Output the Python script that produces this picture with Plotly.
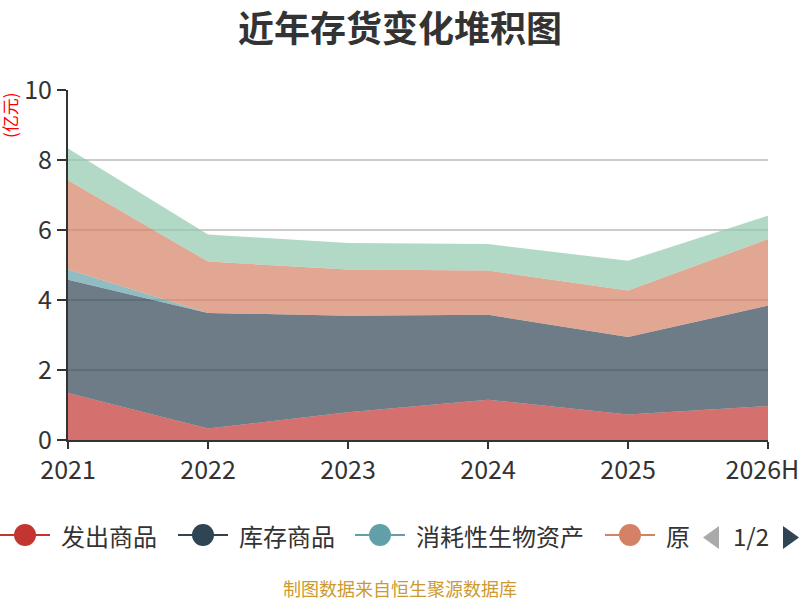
import plotly.graph_objects as go

# Data (亿元)
years = ["2021", "2022", "2023", "2024", "2025", "2026H"]
fachu = [1.34, 0.33, 0.79, 1.15, 0.73, 0.97]
kucun = [3.24, 3.30, 2.76, 2.43, 2.21, 2.87]
xiaohao = [0.29, 0.0, 0.0, 0.0, 0.0, 0.0]
yuancailiao = [2.55, 1.47, 1.32, 1.26, 1.33, 1.90]
zaichan = [0.91, 0.77, 0.76, 0.76, 0.85, 0.67]

names = ["发出商品", "库存商品", "消耗性生物资产", "原材料", "在产品"]
series = [fachu, kucun, xiaohao, yuancailiao, zaichan]
colors = ["#c23531", "#2f4554", "#61a0a8", "#d48265", "#91c7ae"]

FONT = "Noto Sans CJK SC"

# plot area in pixels: x 68..768, y 90..440
L, R, T, B = 68, 768, 90, 440


def p(x, y):
    """ Pixel position to paper coordinates. """
    return (x - L) / (R - L), (B - y) / (B - T)


def rgba(hex_color, a):
    h = hex_color.lstrip("#")
    r, g, b = int(h[0:2], 16), int(h[2:4], 16), int(h[4:6], 16)
    return f"rgba({r},{g},{b},{a})"


fig = go.Figure()

# Stacked areas
for name, values, color in zip(names, series, colors):
    fig.add_trace(go.Scatter(
        x=years,
        y=values,
        name=name,
        mode="lines",
        stackgroup="one",
        line={"width": 0, "color": color},
        fillcolor=rgba(color, 0.7),
        showlegend=False))

shapes = []
annotations = []

# Title
tx, ty = p(400, 26)
annotations.append(dict(
    x=tx, y=ty, xref="paper", yref="paper", text="<b>近年存货变化堆积图</b>",
    showarrow=False, xanchor="center", yanchor="middle",
    font={"size": 36, "color": "#333333", "family": FONT}))

# Unit label
ux, uy = p(10, 115)
annotations.append(dict(
    x=ux, y=uy, xref="paper", yref="paper", text="(亿元)", textangle=-90,
    showarrow=False, xanchor="center", yanchor="middle",
    font={"size": 17, "color": "#ff0000", "family": FONT}))

# Legend, first page only (as in the reference)
legend_items = [("发出商品", 0), ("库存商品", 178), ("消耗性生物资产", 355), ("原", 605)]
ly = 535
for i, (label, lx) in enumerate(legend_items):
    x0, y0 = p(lx, ly)
    x1, _ = p(lx + 50, ly)
    shapes.append(dict(type="line", xref="paper", yref="paper",
                       x0=x0, y0=y0, x1=x1, y1=y0,
                       line={"color": colors[i], "width": 2}))
    cx0, cy0 = p(lx + 14, ly + 11)
    cx1, cy1 = p(lx + 36, ly - 11)
    shapes.append(dict(type="circle", xref="paper", yref="paper",
                       x0=cx0, y0=cy0, x1=cx1, y1=cy1,
                       fillcolor=colors[i], line={"width": 0}))
    ax, ay = p(lx + 59, ly)
    annotations.append(dict(
        x=ax, y=ay, xref="paper", yref="paper", text=label,
        showarrow=False, xanchor="left", yanchor="middle",
        font={"size": 24, "color": "#333333", "family": FONT}))

# Legend pager
a1, b1 = p(719, 526)
a2, b2 = p(703, 537.5)
a3, b3 = p(719, 549)
shapes.append(dict(type="path", xref="paper", yref="paper",
                   path=f"M {a1},{b1} L {a2},{b2} L {a3},{b3} Z",
                   fillcolor="#aaaaaa", line={"width": 0}))
a1, b1 = p(783, 526)
a2, b2 = p(799, 537.5)
a3, b3 = p(783, 549)
shapes.append(dict(type="path", xref="paper", yref="paper",
                   path=f"M {a1},{b1} L {a2},{b2} L {a3},{b3} Z",
                   fillcolor="#2f4554", line={"width": 0}))
px_, py_ = p(751, 535)
annotations.append(dict(
    x=px_, y=py_, xref="paper", yref="paper", text="1/2",
    showarrow=False, xanchor="center", yanchor="middle",
    font={"size": 24, "color": "#333333", "family": FONT}))

# Source note
sx, sy = p(400, 588)
annotations.append(dict(
    x=sx, y=sy, xref="paper", yref="paper", text="制图数据来自恒生聚源数据库",
    showarrow=False, xanchor="center", yanchor="middle",
    font={"size": 18, "color": "#cc9a2e", "family": FONT}))

# last label nudged left so it stays inside the canvas, as in the reference
tick_text = years[:-1] + [years[-1] + "\u00a0\u00a0"]

fig.update_layout(
    autosize=False,
    width=800, height=600,
    margin={"l": L, "r": 800 - R, "t": T, "b": 600 - B, "autoexpand": False},
    paper_bgcolor="white", plot_bgcolor="white",
    font={"family": FONT, "color": "#333333"},
    showlegend=False,
    shapes=shapes,
    annotations=annotations,
    xaxis={
        "type": "category",
        "range": [0, len(years) - 1],
        "tickvals": years, "ticktext": tick_text,
        "showgrid": False,
        "showline": True, "linecolor": "#333333", "linewidth": 2,
        "ticks": "outside", "ticklen": 7, "tickcolor": "#333333", "tickwidth": 2,
        "tickfont": {"size": 25, "color": "#333333"},
        "zeroline": False,
    },
    yaxis={
        "range": [0, 10],
        "dtick": 2,
        "showgrid": True, "gridcolor": "#cccccc", "gridwidth": 1.5,
        "showline": True, "linecolor": "#333333", "linewidth": 2,
        "ticks": "outside", "ticklen": 9, "tickcolor": "#333333", "tickwidth": 2,
        "tickfont": {"size": 25, "color": "#333333"},
        "zeroline": False,
    },
)

# no body margin / scrollbars, and keep the fixed 800x600 size
fig.write_html(
    "out.html",
    config={"responsive": False, "displayModeBar": False},
    post_script=(
        "document.documentElement.style.overflow = 'hidden';"
        "document.body.style.overflow = 'hidden';"
        "document.body.style.margin = '0';"
    ),
)
